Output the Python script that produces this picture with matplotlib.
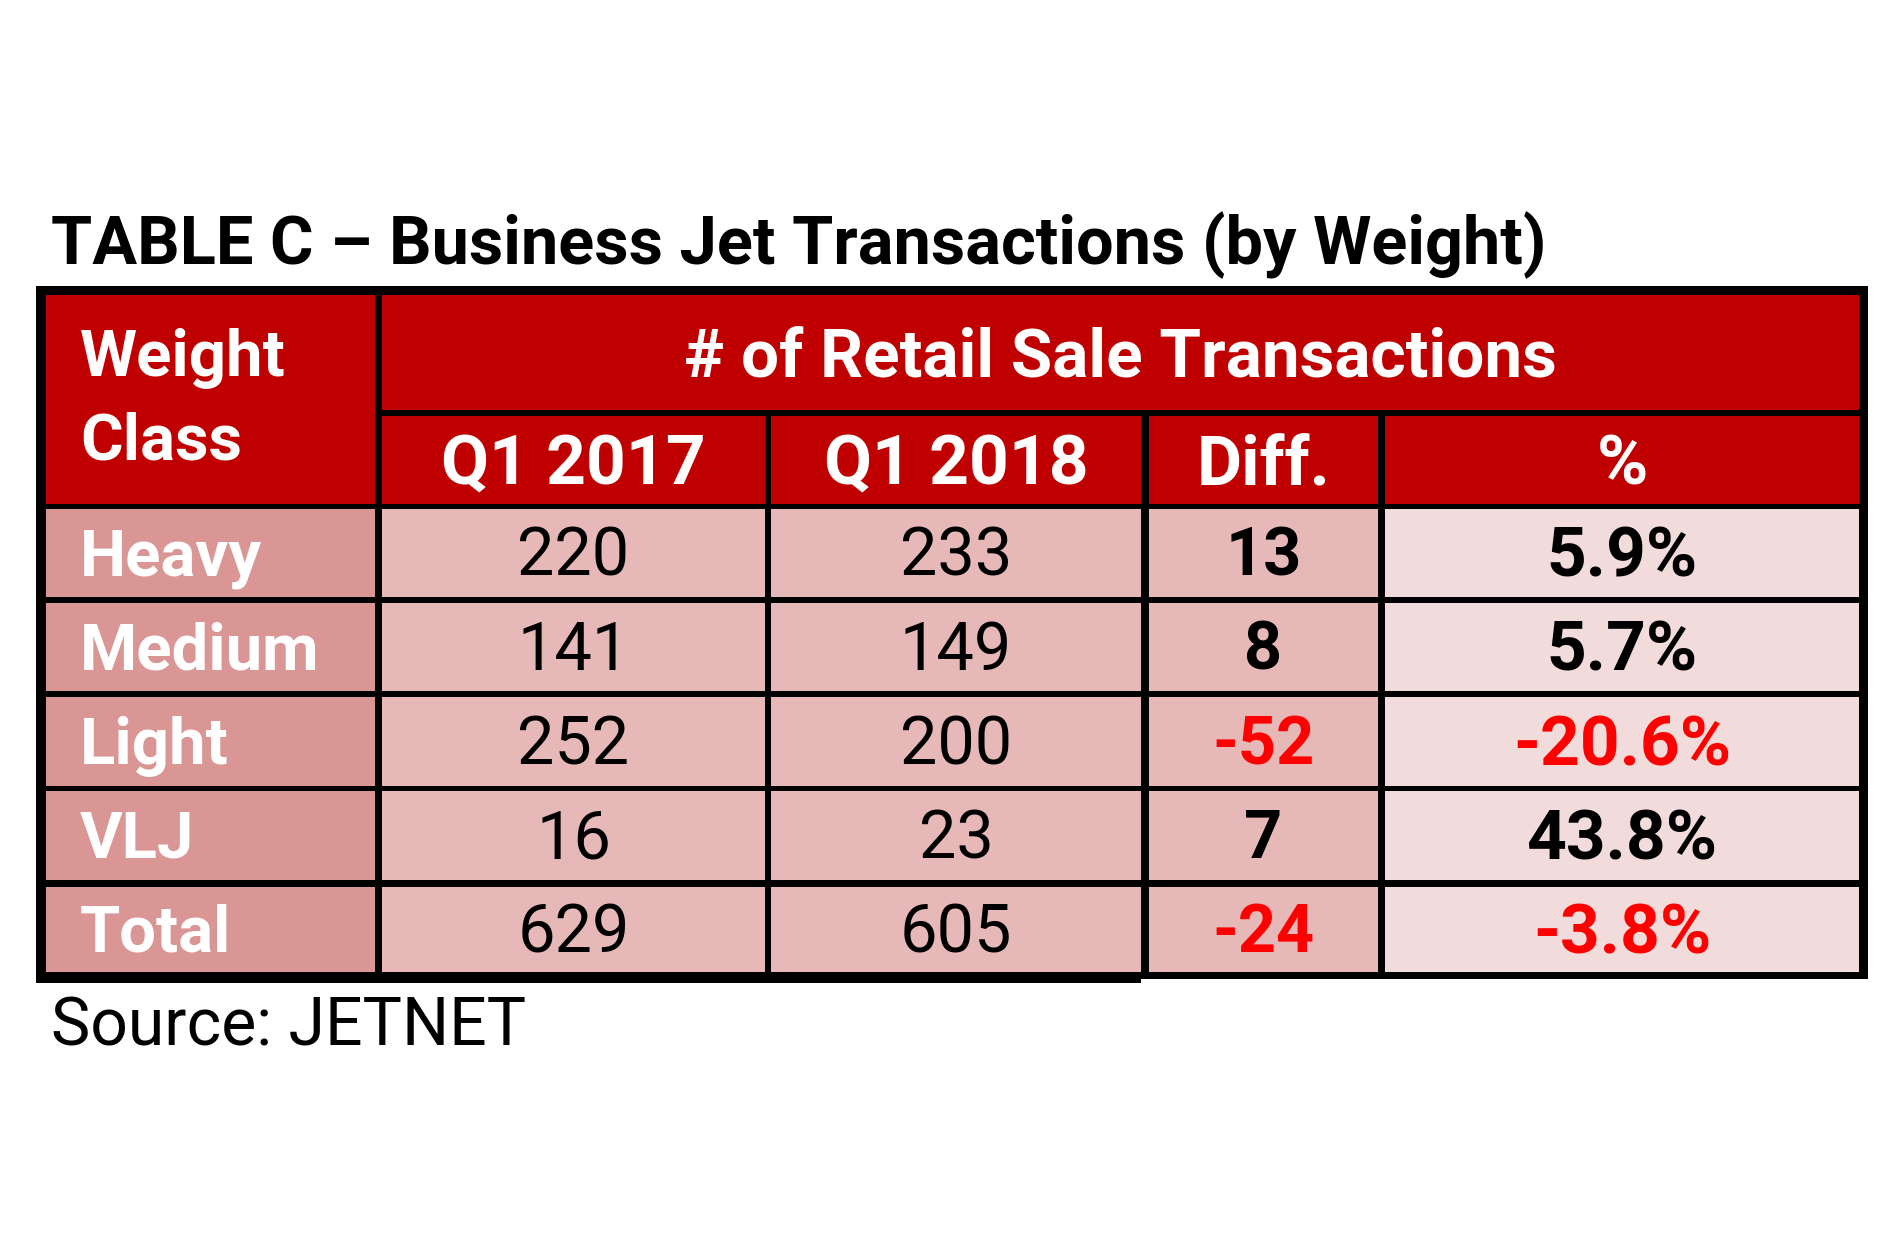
import matplotlib.pyplot as plt
from matplotlib.patches import Rectangle

# table contents
title = "TABLE C \u2013 Business Jet Transactions (by Weight)"
source = "Source: JETNET"
weight_classes = ["Heavy", "Medium", "Light", "VLJ", "Total"]
q1_2017 = [220, 141, 252, 16, 629]
q1_2018 = [233, 149, 200, 23, 605]
diff = [13, 8, -52, 7, -24]
pct = [5.9, 5.7, -20.6, 43.8, -3.8]
col_headers = ["Q1 2017", "Q1 2018", "Diff.", "%"]

# colours (Excel red accent shades)
header_red = "#C00000"
label_pink = "#DA9694"
mid_pink = "#E6B8B7"
light_pink = "#F2DCDB"
neg_red = "#FF0000"

# layout in pixels
W, H = 1890, 1255
col_x = [(46, 375), (382, 765), (771, 1141), (1149, 1378), (1385, 1859)]
head1_y = (295, 410)
head2_y = (416, 504)
row_y = [(509, 597), (603, 691), (697, 786), (791, 880), (887, 972)]

plt.rcParams['font.family'] = ['Roboto', 'DejaVu Sans']

fig = plt.figure(figsize=(W / 100, H / 100), dpi=100)
ax = fig.add_axes([0, 0, 1, 1])
ax.set_xlim(0, W)
ax.set_ylim(H, 0)
ax.axis('off')


def cell(x0, x1, y0, y1, color):
    ax.add_patch(Rectangle((x0, y0), x1 - x0, y1 - y0, facecolor=color, edgecolor='none'))


def put(x, y_mid, s, size, bold=False, color='black', ha='center'):
    # place baseline so caps sit centered in the cell
    cap = size * 100 / 72 * 0.71
    ax.text(x, y_mid + cap / 2, s, fontsize=size, fontweight='bold' if bold else 'normal',
            color=color, ha=ha, va='baseline')


# black frame underneath, cells on top leave the grid lines
cell(36, 1868, 286, 979, 'black')
cell(36, 1141, 975, 983, 'black')

cell(col_x[0][0], col_x[0][1], head1_y[0], head2_y[1], header_red)
cell(col_x[1][0], col_x[4][1], head1_y[0], head1_y[1], header_red)
for (x0, x1) in col_x[1:]:
    cell(x0, x1, head2_y[0], head2_y[1], header_red)

for (y0, y1) in row_y:
    cell(col_x[0][0], col_x[0][1], y0, y1, label_pink)
    for (x0, x1) in col_x[1:4]:
        cell(x0, x1, y0, y1, mid_pink)
    cell(col_x[4][0], col_x[4][1], y0, y1, light_pink)

# title + source
ax.text(51, 264, title, fontsize=48, fontweight='bold', ha='left', va='baseline')
ax.text(51, 1046, source, fontsize=47.5, ha='left', va='baseline')

# header text
ax.text(80, 376, "Weight", fontsize=47, fontweight='bold', color='white', ha='left', va='baseline')
ax.text(80, 460, "Class", fontsize=47, fontweight='bold', color='white', ha='left', va='baseline')
put((col_x[1][0] + col_x[4][1]) / 2, sum(head1_y) / 2, "# of Retail Sale Transactions", 48.5, True, 'white')
for (x0, x1), h in zip(col_x[1:], col_headers):
    put((x0 + x1) / 2, sum(head2_y) / 2, h, 50, True, 'white')

# body
cx = [(x0 + x1) / 2 for (x0, x1) in col_x]
for i, (y0, y1) in enumerate(row_y):
    ym = (y0 + y1) / 2 - 1
    put(80, ym, weight_classes[i], 47, True, 'white', ha='left')
    put(cx[1], ym, str(q1_2017[i]), 48)
    put(cx[2], ym, str(q1_2018[i]), 48)
    c = neg_red if diff[i] < 0 else 'black'
    put(cx[3], ym, str(diff[i]), 48, True, c)
    put(cx[4], ym, f"{pct[i]:.1f}%", 50, True, c)

fig.savefig('out.png', dpi=100, facecolor='white')
plt.close(fig)
